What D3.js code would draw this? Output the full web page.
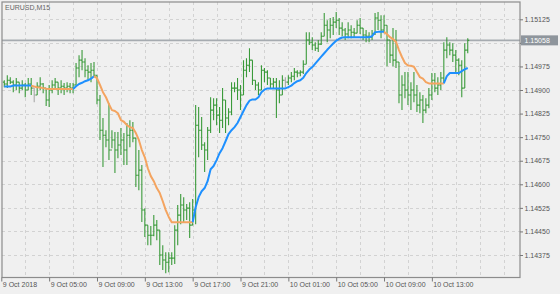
<!DOCTYPE html>
<html>
<head>
<meta charset="utf-8">
<script src="https://cdn.jsdelivr.net/npm/d3@7"></script>
<style>
  html, body { margin: 0; padding: 0; background: #f0f0f0; }
  svg { display: block; font-family: "Liberation Sans", Arial, sans-serif; }
</style>
</head>
<body>
<div class="chart"></div>
<script>
// EURUSD M15 bars, 9 Oct 01:15 .. 10 Oct 16:00
const highs = [
  1.14931,1.14947,1.14941,1.14931,1.14938,1.14925,1.14931,1.14922,1.14938,1.14938,
  1.14906,1.14925,1.14941,1.14922,1.14906,1.14916,1.14931,1.14938,1.14925,1.14931,
  1.14922,1.14925,1.14922,1.14922,1.14986,1.15011,1.15027,1.15001,1.14979,1.14986,
  1.14989,1.14947,1.14884,1.14811,1.14772,1.14858,1.14772,1.14766,1.14766,1.14779,
  1.14763,1.14795,1.14804,1.14798,1.14747,1.14709,1.14661,1.14524,1.14470,1.14467,
  1.14502,1.14486,1.14454,1.14406,1.14384,1.14384,1.14384,1.14470,1.14534,1.14569,
  1.14559,1.14537,1.14543,1.14553,1.14852,1.14846,1.14814,1.14734,1.14782,1.14877,
  1.14874,1.14874,1.14846,1.14906,1.14868,1.14842,1.14925,1.14925,1.14938,1.14916,
  1.14995,1.15001,1.15033,1.14995,1.14931,1.14925,1.14979,1.14970,1.14963,1.14938,
  1.14938,1.14938,1.14931,1.14947,1.14941,1.14947,1.14957,1.14970,1.14963,1.14963,
  1.14995,1.15084,1.15084,1.15068,1.15052,1.15059,1.15084,1.15145,1.15122,1.15129,
  1.15132,1.15148,1.15129,1.15116,1.15097,1.15116,1.15106,1.15097,1.15122,1.15129,
  1.15097,1.15091,1.15084,1.15091,1.15145,1.15148,1.15138,1.15138,1.15106,1.15059,
  1.15097,1.15091,1.14989,1.14947,1.14957,1.14957,1.14925,1.14957,1.14916,1.14893,
  1.14884,1.14874,1.14906,1.14954,1.14954,1.14941,1.14957,1.15052,1.15068,1.15052,
  1.15049,1.15027,1.15001,1.14995,1.15049,1.15065
];
const lows = [
  1.14909,1.14906,1.14919,1.14893,1.14900,1.14890,1.14900,1.14877,1.14900,1.14884,
  1.14861,1.14884,1.14900,1.14890,1.14849,1.14846,1.14890,1.14900,1.14884,1.14890,
  1.14884,1.14893,1.14890,1.14890,1.14916,1.14941,1.14963,1.14941,1.14931,1.14925,
  1.14941,1.14855,1.14741,1.14655,1.14718,1.14677,1.14715,1.14636,1.14683,1.14693,
  1.14661,1.14661,1.14718,1.14734,1.14591,1.14581,1.14480,1.14432,1.14406,1.14406,
  1.14435,1.14422,1.14343,1.14327,1.14317,1.14320,1.14343,1.14346,1.14406,1.14473,
  1.14480,1.14486,1.14429,1.14470,1.14473,1.14686,1.14709,1.14639,1.14677,1.14763,
  1.14804,1.14788,1.14763,1.14779,1.14763,1.14788,1.14820,1.14893,1.14868,1.14836,
  1.14884,1.14941,1.14957,1.14916,1.14900,1.14884,1.14900,1.14925,1.14916,1.14906,
  1.14906,1.14811,1.14858,1.14884,1.14909,1.14916,1.14925,1.14931,1.14941,1.14944,
  1.14951,1.14982,1.15043,1.15027,1.15024,1.15021,1.15043,1.15071,1.15052,1.15065,
  1.15075,1.15097,1.15075,1.15071,1.15059,1.15065,1.15065,1.15068,1.15081,1.15078,
  1.15059,1.15052,1.15052,1.15059,1.15075,1.15091,1.15065,1.15081,1.14976,1.14986,
  1.14976,1.14970,1.14858,1.14836,1.14874,1.14852,1.14836,1.14861,1.14830,1.14826,
  1.14795,1.14826,1.14842,1.14868,1.14893,1.14884,1.14900,1.14922,1.15001,1.15011,
  1.14989,1.14957,1.14947,1.14877,1.14906,1.15017
];
const closes = [
  1.14919,1.14931,1.14925,1.14916,1.14925,1.14906,1.14916,1.14900,1.14919,1.14906,
  1.14884,1.14912,1.14919,1.14906,1.14868,1.14900,1.14916,1.14925,1.14906,1.14912,
  1.14906,1.14912,1.14906,1.14916,1.14970,1.14995,1.14989,1.14963,1.14957,1.14963,
  1.14947,1.14868,1.14772,1.14756,1.14741,1.14709,1.14741,1.14709,1.14725,1.14741,
  1.14709,1.14756,1.14772,1.14747,1.14629,1.14645,1.14518,1.14470,1.14438,1.14438,
  1.14470,1.14454,1.14375,1.14359,1.14352,1.14365,1.14365,1.14454,1.14502,1.14534,
  1.14518,1.14524,1.14470,1.14518,1.14788,1.14772,1.14725,1.14709,1.14772,1.14836,
  1.14852,1.14820,1.14804,1.14868,1.14811,1.14830,1.14906,1.14906,1.14900,1.14884,
  1.14963,1.14979,1.14995,1.14931,1.14916,1.14900,1.14963,1.14957,1.14938,1.14919,
  1.14925,1.14900,1.14884,1.14931,1.14925,1.14938,1.14944,1.14957,1.14954,1.14957,
  1.14982,1.15059,1.15052,1.15043,1.15033,1.15046,1.15071,1.15106,1.15091,1.15106,
  1.15116,1.15122,1.15097,1.15091,1.15078,1.15091,1.15084,1.15081,1.15106,1.15097,
  1.15075,1.15071,1.15068,1.15078,1.15129,1.15122,1.15091,1.15106,1.15059,1.15011,
  1.14995,1.14989,1.14884,1.14916,1.14900,1.14884,1.14900,1.14884,1.14852,1.14868,
  1.14836,1.14852,1.14884,1.14931,1.14906,1.14916,1.14938,1.15027,1.15043,1.15027,
  1.15011,1.14995,1.14979,1.14906,1.15027,1.15058
];
const firstOpen = 1.14925;
const grayBars = [10, 94];

// trend line indicator (blue rising, orange falling)
const trendLine = [
  1.14911,1.14911,1.14911,1.14914,1.14914,1.14914,1.14914,1.14914,1.14914,1.14914,
  1.14911,1.14909,1.14908,1.14906,1.14904,1.14903,1.14903,1.14903,1.14903,1.14903,
  1.14903,1.14903,1.14903,1.14903,1.14912,1.14919,1.14923,1.14928,1.14931,1.14936,
  1.14944,1.14938,1.14916,1.14893,1.14877,1.14855,1.14836,1.14833,1.14826,1.14804,
  1.14799,1.14788,1.14782,1.14779,1.14763,1.14741,1.14709,1.14686,1.14651,1.14626,
  1.14610,1.14588,1.14572,1.14546,1.14518,1.14496,1.14479,1.14479,1.14479,1.14479,
  1.14479,1.14479,1.14479,1.14479,1.14527,1.14559,1.14578,1.14588,1.14610,1.14648,
  1.14658,1.14677,1.14699,1.14715,1.14737,1.14760,1.14772,1.14782,1.14795,1.14814,
  1.14833,1.14852,1.14866,1.14870,1.14870,1.14877,1.14893,1.14901,1.14905,1.14905,
  1.14905,1.14905,1.14905,1.14905,1.14905,1.14909,1.14914,1.14922,1.14928,1.14931,
  1.14939,1.14954,1.14965,1.14973,1.14984,1.14995,1.15006,1.15017,1.15028,1.15038,
  1.15048,1.15057,1.15063,1.15067,1.15068,1.15068,1.15068,1.15068,1.15068,1.15068,
  1.15068,1.15068,1.15068,1.15071,1.15084,1.15085,1.15085,1.15085,1.15078,1.15068,
  1.15062,1.15053,1.15027,1.15005,1.14986,1.14978,1.14977,1.14974,1.14957,1.14941,
  1.14936,1.14925,1.14921,1.14921,1.14921,1.14921,1.14921,1.14921,1.14944,1.14954,
  1.14954,1.14954,1.14954,1.14960,1.14966,1.14970
];

const xLabels = ["9 Oct 2018", "9 Oct 05:00", "9 Oct 09:00", "9 Oct 13:00", "9 Oct 17:00",
  "9 Oct 21:00", "10 Oct 01:00", "10 Oct 05:00", "10 Oct 09:00", "10 Oct 13:00"];
const yTicks = [1.14375, 1.14450, 1.14525, 1.14600, 1.14675, 1.14750, 1.14825,
  1.14900, 1.14975, 1.15050, 1.15125];
const symbol = "EURUSD,M15";

const width = 560, height = 294;
const plot = {left: 2, top: 2, right: 520, bottom: 277.5};
const barStep = 2.99;

const svg = d3.select('.chart').append('svg')
  .attr('width', width)
  .attr('height', height);

const n = highs.length;
const x = d3.scaleLinear()
  .domain([0, n - 1])
  .range([4.3, 4.3 + barStep * (n - 1)]);
const y = d3.scaleLinear()
  .domain([1.14375, 1.15125])
  .range([255, 19.3]);

svg.append('defs').append('clipPath').attr('id', 'plot-clip')
  .append('rect')
  .attr('x', plot.left).attr('y', plot.top)
  .attr('width', plot.right - plot.left).attr('height', plot.bottom - plot.top);

// grid
const gridIdx = d3.range(1, 22).map(k => 8 * k - 1);
svg.append('g').selectAll('line')
  .data(gridIdx)
  .enter().append('line')
  .attr('x1', d => Math.round(x(d)) + 0.5).attr('x2', d => Math.round(x(d)) + 0.5)
  .attr('y1', plot.top).attr('y2', plot.bottom)
  .attr('stroke', '#d2d2d2').attr('stroke-dasharray', '3,3');

svg.append('g').selectAll('line')
  .data(yTicks)
  .enter().append('line')
  .attr('x1', plot.left).attr('x2', plot.right)
  .attr('y1', d => Math.round(y(d)) + 0.5).attr('y2', d => Math.round(y(d)) + 0.5)
  .attr('stroke', '#d2d2d2').attr('stroke-dasharray', '3,3');

// current price line
const lastPrice = closes[n - 1];
const py = y(lastPrice);
svg.append('line')
  .attr('x1', plot.left).attr('x2', plot.right)
  .attr('y1', py).attr('y2', py)
  .attr('stroke', '#a6abb0').attr('stroke-width', 1.6);

const chart = svg.append('g').attr('clip-path', 'url(#plot-clip)');

// HLC bars with open/close ticks
const bars = d3.range(n).map(i => ({
  i: i,
  high: highs[i],
  low: lows[i],
  open: i === 0 ? firstOpen : closes[i - 1],
  close: closes[i],
  gray: grayBars.includes(i)
}));

chart.selectAll('.bar')
  .data(bars)
  .enter().append('path')
  .attr('class', 'bar')
  .attr('d', d => {
    const cx = x(d.i);
    return `M${cx},${y(d.high)}V${y(d.low)}` +
      `M${cx - 1.5},${y(d.open)}H${cx}` +
      `M${cx},${y(d.close)}H${cx + 1.5}`;
  })
  .attr('fill', 'none')
  .attr('stroke', d => d.gray ? '#a8a8a8' : '#3a9a3a')
  .attr('stroke-width', 1.1);

// indicator: split into runs by direction
const dir = [1];
for (let i = 1; i < n; i++) {
  const diff = trendLine[i] - trendLine[i - 1];
  dir.push(diff > 0 ? 1 : diff < 0 ? -1 : dir[i - 1]);
}
const runs = [];
for (let i = 1; i < n; i++) {
  const last = runs[runs.length - 1];
  if (last && last.dir === dir[i]) last.pts.push(i);
  else runs.push({dir: dir[i], pts: [i - 1, i]});
}
const line = d3.line()
  .x(i => x(i))
  .y(i => y(trendLine[i]));

chart.selectAll('.trend')
  .data(runs)
  .enter().append('path')
  .attr('class', 'trend')
  .attr('d', d => line(d.pts))
  .attr('fill', 'none')
  .attr('stroke', d => d.dir > 0 ? '#1e90ff' : '#f4a460')
  .attr('stroke-width', 2)
  .attr('stroke-linejoin', 'round');

// frame
svg.append('rect')
  .attr('x', plot.left).attr('y', plot.top)
  .attr('width', plot.right - plot.left).attr('height', plot.bottom - plot.top)
  .attr('fill', 'none').attr('stroke', '#8c8c8c').attr('stroke-width', 1.2);

// axes
const tickIdx = xLabels.map((d, i) => 16 * i - 1);
const xAxis = d3.axisBottom(x)
  .tickValues(tickIdx)
  .tickFormat((d, i) => xLabels[i])
  .tickSize(4)
  .tickSizeOuter(0);

const gx = svg.append('g')
  .attr('transform', `translate(0, ${plot.bottom})`)
  .call(xAxis);
gx.select('.domain').remove();
gx.selectAll('line').attr('stroke', '#777');
gx.selectAll('text')
  .attr('text-anchor', 'start')
  .attr('x', 1)
  .attr('y', 4.5)
  .attr('font-size', '7px')
  .attr('font-family', '"Liberation Sans", Arial, sans-serif')
  .attr('fill', '#555');

// the label hidden behind the last-price box is left out
const priceFmt = d3.format('.5f');
const yAxis = d3.axisRight(y)
  .tickValues(yTicks)
  .tickFormat(d => Math.abs(y(d) - py) < 8 ? '' : priceFmt(d))
  .tickSize(3)
  .tickSizeOuter(0);

const gy = svg.append('g')
  .attr('transform', `translate(${plot.right}, 0)`)
  .call(yAxis);
gy.select('.domain').remove();
gy.selectAll('line').attr('stroke', '#777');
gy.selectAll('text')
  .attr('x', 4.5)
  .attr('font-size', '7px')
  .attr('font-family', '"Liberation Sans", Arial, sans-serif')
  .attr('fill', '#555');

// last price label
svg.append('rect')
  .attr('x', plot.right + 1).attr('y', py - 5)
  .attr('width', 37).attr('height', 10)
  .attr('fill', '#8e959c');
svg.append('text')
  .attr('x', plot.right + 4.5).attr('y', py)
  .attr('dy', '0.34em')
  .attr('font-size', '7px')
  .attr('fill', '#fff')
  .text(priceFmt(lastPrice));

svg.append('text')
  .attr('x', 5).attr('y', 9.5)
  .attr('font-size', '7px')
  .attr('fill', '#666')
  .text(symbol);
</script>
</body>
</html>
